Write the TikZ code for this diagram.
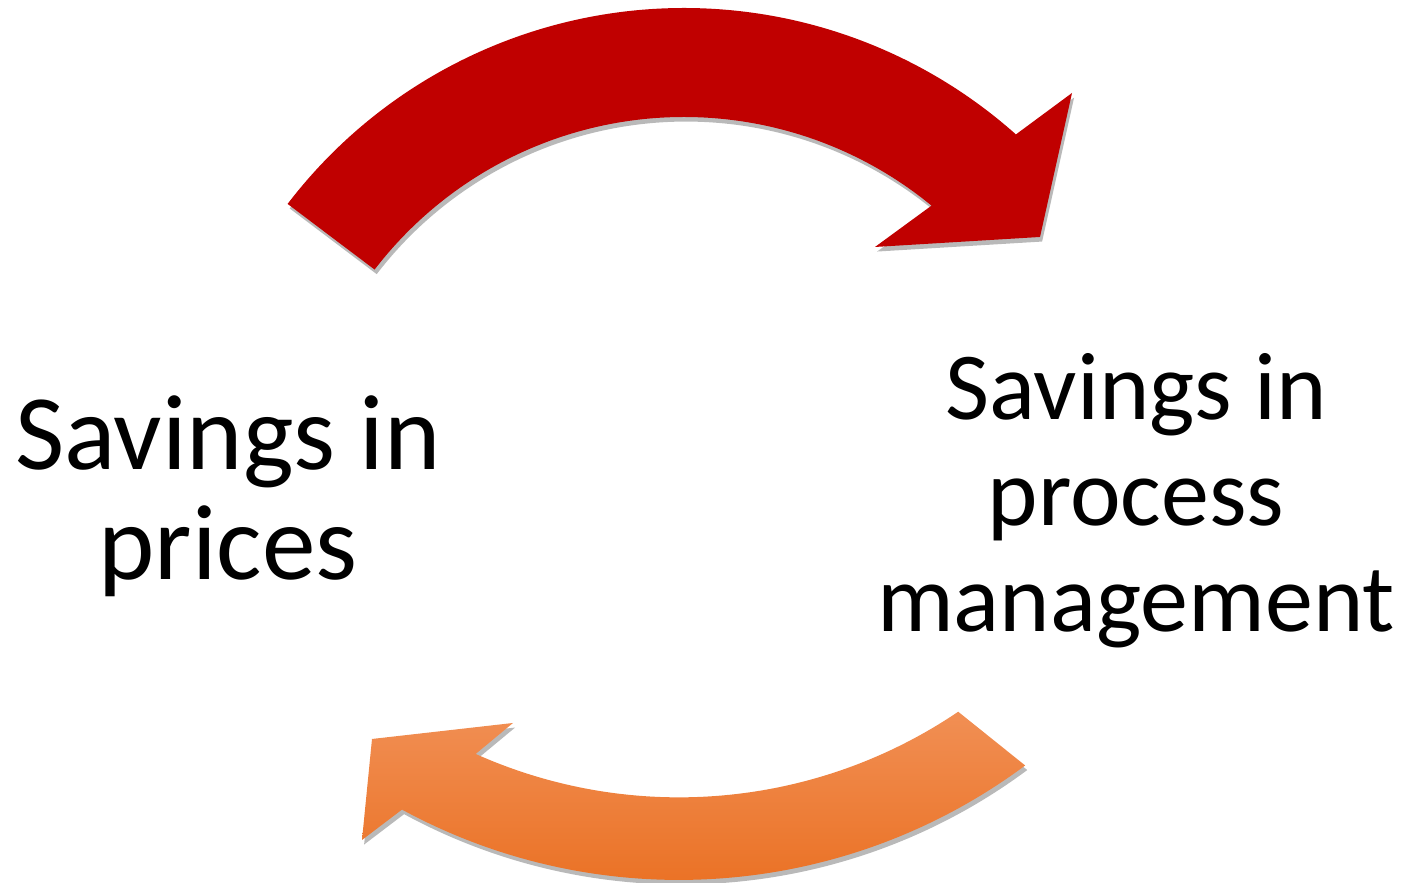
\documentclass[tikz,border=0pt]{standalone}
\usepackage{fontspec}
\setmainfont{Carlito}
\usetikzlibrary{positioning,calc,shadows}
\definecolor{cyclered}{RGB}{192,0,0}
\definecolor{cycleorangetop}{RGB}{241,143,84}
\definecolor{cycleorangebot}{RGB}{233,108,28}
\tikzstyle{arrow_red} = [fill=cyclered,
						 drop shadow={shadow xshift=0.6pt,
						 			  shadow yshift=-1.3pt,
						 			  fill=black!50,
						 			  opacity=0.55}]
\tikzstyle{arrow_orange} = [top color=cycleorangetop,
							bottom color=cycleorangebot,
							drop shadow={shadow xshift=0.6pt,
										 shadow yshift=-1.3pt,
										 fill=black!50,
										 opacity=0.55}]
\tikzstyle{label_left} = [align=center,
						  anchor=base,
						  inner sep=0pt,
						  font=\fontsize{30.5pt}{31.3pt}\selectfont]
\tikzstyle{label_right} = [align=center,
						   anchor=base,
						   inner sep=0pt,
						   font=\fontsize{27.3pt}{30.2pt}\selectfont]

\begin{document}
\begin{tikzpicture}[x=0.01cm,y=0.01cm]
	\useasboundingbox (0,0) rectangle (1405,883);

	%%%%%%%%%%%%%
	% TOP ARROW %
	%%%%%%%%%%%%%
	\coordinate (ctop) at (684,376);
	\path[arrow_red] ($(ctop)+(142.6:499)$) arc[start angle=142.6, end angle=48.3, radius=499]
		-- (1072,790) -- (1040,646) -- (875,636)
		-- ($(ctop)+(50.6:390)$) arc[start angle=50.6, end angle=142.5, radius=390] -- cycle;

	%%%%%%%%%%%%%%%%
	% BOTTOM ARROW %
	%%%%%%%%%%%%%%%%
	\coordinate (cbot) at (679,583.6);
	\path[arrow_orange] ($(cbot)+(-53.4:580.6)$) arc[start angle=-53.4, end angle=-118.5, radius=580.6]
		-- (362,43) -- (372,144) -- (513,160)
		-- ($(cbot)+(-114.1:498)$) arc[start angle=-114.1, end angle=-55.9, radius=498] -- cycle;

	%%%%%%%%%%
	% LABELS %
	%%%%%%%%%%
	\node[label_left] (prices) at (228,303) {Savings in\\prices};
	\node[label_right] (process) at (1136,251) {Savings in\\process\\management};

\end{tikzpicture}
\end{document}
